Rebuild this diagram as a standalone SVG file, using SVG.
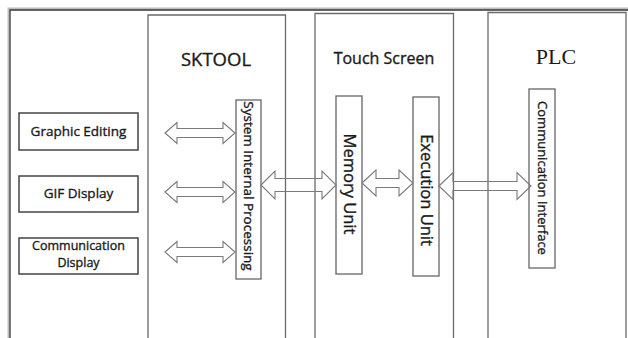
<svg xmlns="http://www.w3.org/2000/svg" width="628" height="338" viewBox="0 0 628 338">
<style>
.col{fill:none;stroke:#6a6a6a;stroke-width:1.3}
.box{fill:#fff;stroke:#444;stroke-width:1.5}
.vbox{fill:#fff;stroke:#666;stroke-width:1.3}
.arr{fill:none;stroke:#7a7a7a;stroke-width:1.1;stroke-linejoin:miter}
.t{font-family:"Open Sans","Noto Sans",sans-serif;fill:#1a1a1a;stroke:#1a1a1a;stroke-width:0.35;text-anchor:middle}
.s{font-family:"Liberation Serif",serif;fill:#1a1a1a;text-anchor:middle}
</style>
<rect width="628" height="338" fill="#fff"/>
<g id="frame">
<path d="M8.5 338 V8.5 H628" fill="none" stroke="#bdbdbd" stroke-width="2"/>
<path d="M10 338 V10 H628" fill="none" stroke="#333" stroke-width="1.3"/>
</g>
<g id="sktool">
<path class="col" d="M148 338 V15 H285.5 V338"/>
<text class="t" x="216" y="66" font-size="18.5">SKTOOL</text>
</g>
<g id="touch-screen">
<path class="col" d="M315 338 V13.5 H453.5 V338"/>
<text class="t" x="384" y="64" font-size="16">Touch Screen</text>
</g>
<g id="plc">
<path class="col" d="M488 338 V12.5 H626 V338"/>
<text class="s" x="556" y="64" font-size="22">PLC</text>
</g>
<g id="graphic-editing">
<rect class="box" x="19" y="113" width="119" height="37"/>
<text class="t" x="78.5" y="136" font-size="13.5">Graphic Editing</text>
</g>
<g id="gif-display">
<rect class="box" x="19" y="176" width="119" height="36"/>
<text class="t" x="78.5" y="198" font-size="13.5">GIF Display</text>
</g>
<g id="communication-display">
<rect class="box" x="19" y="238" width="119" height="36"/>
<text class="t" font-size="12.5"><tspan x="78.5" y="250">Communication</tspan><tspan x="78.5" y="267">Display</tspan></text>
</g>
<g id="system-internal-processing">
<rect class="vbox" x="236" y="100" width="25" height="179"/>
<text class="t" font-size="13.5" transform="translate(248.5 186) rotate(90)" dy="4.7">System Internal Processing</text>
</g>
<g id="memory-unit">
<rect class="vbox" x="336" y="96" width="26" height="178"/>
<text class="t" font-size="16.5" transform="translate(349 184) rotate(90)" dy="5.5">Memory Unit</text>
</g>
<g id="execution-unit">
<rect class="vbox" x="413" y="97" width="26" height="179"/>
<text class="t" font-size="16.5" transform="translate(426 190) rotate(90)" dy="5.5">Execution Unit</text>
</g>
<g id="communication-interface">
<rect class="vbox" x="529" y="89" width="26" height="179"/>
<text class="t" font-size="13" transform="translate(542 178) rotate(90)" dy="4.5">Communication Interface</text>
</g>
<g id="connectors">
<path class="arr" d="M165 133 L177 122.5 L177 128.5 L223 128.5 L223 122.5 L235 133 L223 143.5 L223 137.5 L177 137.5 L177 143.5 Z"/>
<path class="arr" d="M165 192 L177 181.5 L177 187.5 L223 187.5 L223 181.5 L235 192 L223 202.5 L223 196.5 L177 196.5 L177 202.5 Z"/>
<path class="arr" d="M165 252 L177 241.5 L177 247.5 L223 247.5 L223 241.5 L235 252 L223 262.5 L223 256.5 L177 256.5 L177 262.5 Z"/>
<path class="arr" d="M261 185 L275 171 L275 178.5 L322 178.5 L322 171 L336 185 L322 199 L322 191.5 L275 191.5 L275 199 Z"/>
<path class="arr" d="M362 183 L376 170 L376 178.5 L399 178.5 L399 170 L413 183 L399 196 L399 187.5 L376 187.5 L376 196 Z"/>
<path class="arr" d="M439 186 L453 172.5 L453 181.5 L517 181.5 L517 172.5 L531 186 L517 199.5 L517 190.5 L453 190.5 L453 199.5 Z"/>
</g>
</svg>
